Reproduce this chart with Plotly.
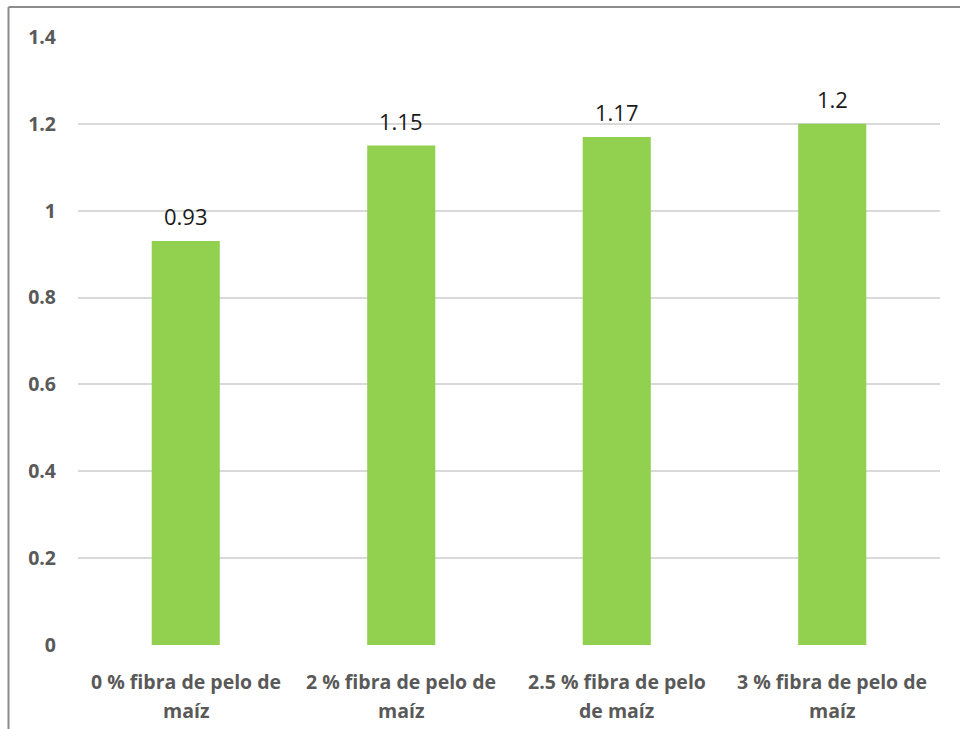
import plotly.graph_objects as go

categories = ["0 % fibra de pelo de maíz", "2 % fibra de pelo de maíz",
              "2.5 % fibra de pelo de maíz", "3 % fibra de pelo de maíz"]
label_line1 = ["0 % fibra de pelo de", "2 % fibra de pelo de", "2.5 % fibra de pelo", "3 % fibra de pelo de"]
label_line2 = ["maíz", "maíz", "de maíz", "maíz"]
values = [0.93, 1.15, 1.17, 1.2]
value_labels = ["0.93", "1.15", "1.17", "1.2"]
y_ticks = [0, 0.2, 0.4, 0.6, 0.8, 1, 1.2, 1.4]
y_ticktext = ["0", "0.2", "0.4", "0.6", "0.8", "1", "1.2", "1.4"]

FONT = "Open Sans"
GRAY = "#595959"

fig = go.Figure()
fig.add_trace(go.Bar(x=categories, y=values, marker=dict(color="#92d050", line=dict(width=0)),
                     width=0.316, hoverinfo="skip"))

annotations = []
for c, v, t in zip(categories, values, value_labels):
    annotations.append(dict(x=c, y=v, xref="x", yref="y", text=t, showarrow=False,
                            yanchor="bottom", yshift=8,
                            font=dict(family=FONT, size=22, color="#1a1a1a")))
for c, l1, l2 in zip(categories, label_line1, label_line2):
    annotations.append(dict(x=c, y=0, xref="x", yref="y", text="<b>%s</b>" % l1, showarrow=False,
                            yanchor="middle", yshift=-36,
                            font=dict(family=FONT, size=19.5, color=GRAY)))
    annotations.append(dict(x=c, y=0, xref="x", yref="y", text="<b>%s</b>" % l2, showarrow=False,
                            yanchor="middle", yshift=-65,
                            font=dict(family=FONT, size=19.5, color=GRAY)))

# plot area: x 78..940, y 37..645
W, H = 960, 729
L, R, T, B = 78, 20, 37, 84
pw, ph = W - L - R, H - T - B

def px(x):
    return (x - L) / pw

def py(y):
    return (H - B - y) / ph

shapes = [
    dict(type="line", xref="paper", yref="paper", x0=px(8.5), x1=px(962), y0=py(7), y1=py(7),
         line=dict(color="#8c8c8c", width=2)),
    dict(type="line", xref="paper", yref="paper", x0=px(8.5), x1=px(8.5), y0=py(7), y1=py(731),
         line=dict(color="#8c8c8c", width=2)),
]

fig.update_layout(
    width=W, height=H,
    margin=dict(l=L, r=R, t=T, b=B),
    paper_bgcolor="white", plot_bgcolor="white",
    showlegend=False,
    bargap=0.684,
    annotations=annotations,
    shapes=shapes,
    xaxis=dict(showticklabels=False, showgrid=False, zeroline=False, showline=False, ticks=""),
    yaxis=dict(range=[0, 1.4], tickvals=y_ticks, ticktext=["<b>%s</b>" % t for t in y_ticktext],
               showgrid=True, gridcolor="#d9d9d9", gridwidth=1.5, zeroline=False, showline=False,
               tickfont=dict(family=FONT, size=19.5, color=GRAY), ticklabelstandoff=21),
)

fig.write_html("out.html")
